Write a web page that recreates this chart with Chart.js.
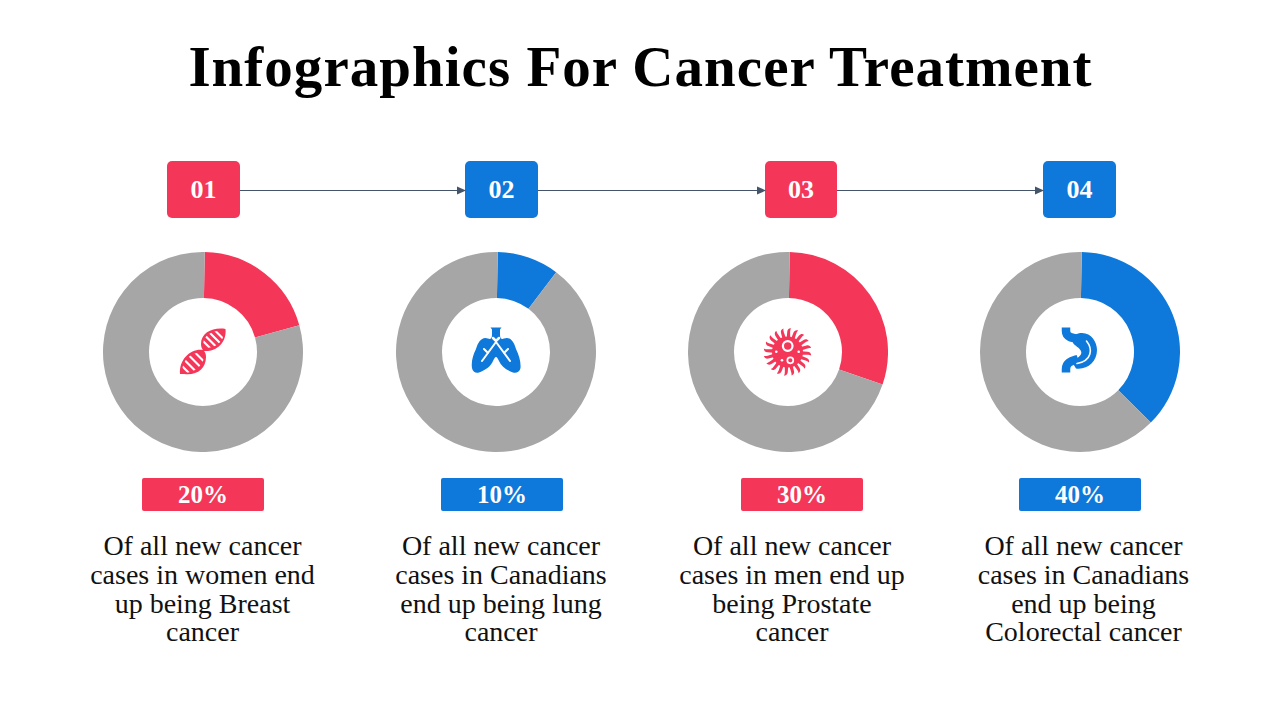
<!DOCTYPE html>
<html><head><meta charset="utf-8">
<script src="https://cdn.jsdelivr.net/npm/chart.js@4"></script>
<style>
html,body{margin:0;padding:0;background:#fff}
#stage{position:relative;width:1280px;height:720px;overflow:hidden;font-family:"Liberation Serif",serif}
#title{position:absolute;left:0;width:1281px;top:32px;text-align:center;font-weight:700;font-size:57px;line-height:70px;letter-spacing:1.03px;color:#000;white-space:nowrap}
.num,.pct{position:absolute;color:#fff;font-weight:700;text-align:center}
.num{top:161px;height:57px;line-height:57px;border-radius:5px;font-size:26px}
.pct{top:478px;height:33px;line-height:33px;border-radius:2px;font-size:25px;width:122px}
.txt{position:absolute;top:532px;width:300px;text-align:center;font-size:28px;line-height:28.8px;color:#111;white-space:pre-line}
canvas.d{position:absolute;top:252px;width:200px;height:200px}
svg{position:absolute;left:0;top:0}
</style></head>
<body><div id="stage">
<div id="title"></div>
<svg id="art" width="1280" height="720" viewBox="0 0 1280 720" style="z-index:2">
 <g stroke="#44546A" stroke-width="1.2" fill="#44546A">
  <line x1="240" y1="190.5" x2="458" y2="190.5"/><path d="M457 186.5L466 190.5L457 194.5Z" stroke="none"/>
  <line x1="538" y1="190.5" x2="758" y2="190.5"/><path d="M757 186.5L766 190.5L757 194.5Z" stroke="none"/>
  <line x1="837" y1="190.5" x2="1036" y2="190.5"/><path d="M1035 186.5L1044 190.5L1035 194.5Z" stroke="none"/>
 </g>
 <defs>
  <clipPath id="l1"><path d="M223.5 331C214 330 204 334 203 344C203 346 204 348 205 348C216 348 225 341 223.5 331Z"/></clipPath>
  <clipPath id="l2"><path d="M182.5 372.500C181 362 190 352 201 352.500C203.500 353 204.500 355 204 358C202 367 192 374 182.5 372.500Z"/></clipPath>
 </defs>
 <path fill="#F43759" d="M225.5 329C214 327 201 332 201 344C201 347 202 349 203 350C192 348 179 358 180 374L184 374C196 376 206 369 206 357C206 354 205 352 204 351C216 352 227 343 225.5 329Z"/>
 <g stroke="#fff" stroke-width="2.1" fill="none">
  <g clip-path="url(#l1)"><path d="M197 335L217 355M201 331.500L221 351.500M205 328L225 348M209 324.500L229 344.500"/></g>
  <g clip-path="url(#l2)"><path d="M175 359L195 379M179.500 355L199.500 375M184 350.500L204 370.500M188.500 346L208.500 366"/></g>
 </g>
 <path fill="#0E79DA" d="M490.500 327.500L501.500 327.500L500 329.500V335C500 339 502 339.500 504 338.500C510 336 514 342 516 349C519 355 521 362 520.500 368C520 372 516 373.500 513 372.500C506 370 501 366 499 361C498 359 497 357 496 357C495 357 494 359 493 361C491 366 486 370 479 372.500C476 373.500 472.500 372 472 368C471 362 473 355 476 349C478 342 482 336 488 338.500C490 339.500 492 339 492 335V329.500Z"/>
 <g stroke="#fff" stroke-width="2" stroke-linecap="round" fill="none">
  <path d="M496 342L482 361M496 342L510 361M488 353L484 349M504 353L508 349"/>
  <path d="M493 338L496 341L499 338" stroke-width="2.500"/>
 </g>
 <g id="virus"></g>
 <g fill="none" stroke="#0E79DA" stroke-linecap="butt">
  <path d="M1066 327.500V331C1066 337 1072 338 1078 339" stroke-width="8.500"/>
  <path d="M1066 372.500V369C1066 362 1072 361 1078 359" stroke-width="8.500"/>
 </g>
 <path fill="#0E79DA" d="M1074 335C1088 328 1097 340 1097 350C1097 362 1087 370 1076 368.500L1072 362C1076 358 1083 356 1081 351C1079 347 1075 346 1073 343Z"/>
 <path d="M1086.500 341C1093 349 1092 361 1077 363.500" fill="none" stroke="#fff" stroke-width="1.600" stroke-linecap="round"/>
</svg>
</div>
<script>
const titleText = "Infographics For Cancer Treatment";
const categories = ["01", "02", "03", "04"];
const percentLabels = ["20%", "10%", "30%", "40%"];
const filledShare = [20.4, 10, 30, 37.2];
const restShare = [79.6, 90, 70, 62.8];
const captions = [
 "Of all new cancer\ncases in women end\nup being Breast\ncancer",
 "Of all new cancer\ncases in Canadians\nend up being lung\ncancer",
 "Of all new cancer\ncases in men end up\nbeing Prostate\ncancer",
 "Of all new cancer\ncases in Canadians\nend up being\nColorectal cancer"
];
const accents = ["#F43759", "#0E79DA", "#F43759", "#0E79DA"];
const grey = "#A6A6A6";
const donutLeft = [103, 395.5, 688, 980];
const numLeft = [167, 465, 765, 1043];
const numWidth = [73, 73, 72, 73];
const pctLeft = [142, 441, 741, 1019];
const captionCentre = [202.5, 501, 792, 1083.5];

const stage = document.getElementById("stage");
document.getElementById("title").textContent = titleText;
function add(cls, text, css){
  const e = document.createElement("div");
  e.className = cls; e.textContent = text; Object.assign(e.style, css);
  stage.appendChild(e);
}
categories.forEach((c, i) => {
  add("num", c, {left: numLeft[i]+"px", width: numWidth[i]+"px", background: accents[i]});
  add("pct", percentLabels[i], {left: pctLeft[i]+"px", background: accents[i]});
  add("txt", captions[i], {left: (captionCentre[i]-150)+"px"});
  const cv = document.createElement("canvas");
  cv.className = "d"; cv.style.left = donutLeft[i]+"px";
  cv.width = 200; cv.height = 200;
  stage.appendChild(cv);
  new Chart(cv, {
    type: "doughnut",
    data: {labels: ["Share", "Rest"], datasets: [{data: [filledShare[i], restShare[i]],
      backgroundColor: [accents[i], grey], borderWidth: 0, hoverOffset: 0}]},
    options: {responsive: false, animation: false, cutout: "54%", rotation: 1,
      layout: {padding: 0}, plugins: {legend: {display: false}, tooltip: {enabled: false}}}
  });
});

const ns = "http://www.w3.org/2000/svg";
const v = document.getElementById("virus");
function el(n, a){const e = document.createElementNS(ns, n); for (const k in a) e.setAttribute(k, a[k]); v.appendChild(e);}
el("circle", {cx: 787.5, cy: 352, r: 15.5, fill: "#F43759"});
for (let k = 0; k < 20; k++) {
  el("path", {d: "M-1.7 -14L-1.7 -20C-1.7 -22 -0.500 -23.800 1.800 -23.800C0.700 -21.500 1.500 -19 1.700 -14Z",
    fill: "#F43759", transform: `translate(787.5 352) rotate(${k*18+4})`});
}
el("circle", {cx: 787.7, cy: 346, r: 4.8, fill: "none", stroke: "#fff", "stroke-width": 2.2});
el("circle", {cx: 790.3, cy: 360.3, r: 3, fill: "none", stroke: "#fff", "stroke-width": 1.7});
[[776.3,351.7],[798.7,351.7],[782,360.3]].forEach(p => el("circle", {cx: p[0], cy: p[1], r: 1.3, fill: "#fff"}));
</script>
</body></html>
